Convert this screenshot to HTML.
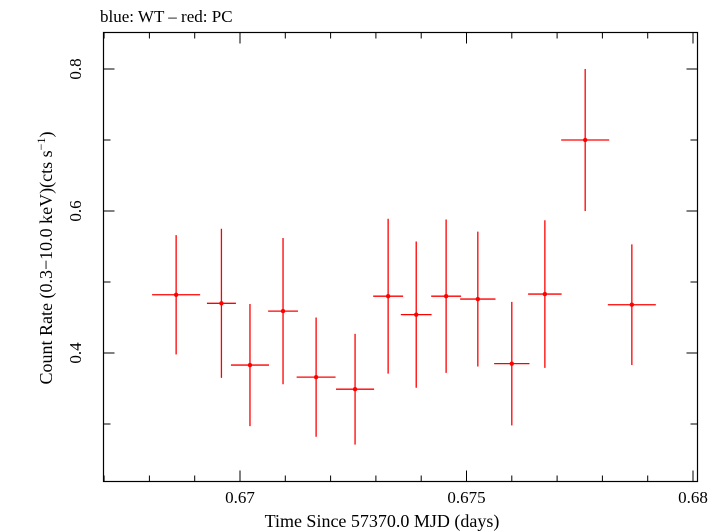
<!DOCTYPE html>
<html><head><meta charset="utf-8"><style>body{margin:0;background:#fff}svg{display:block}</style></head>
<body>
<svg id="chart" width="727" height="532" xmlns="http://www.w3.org/2000/svg" font-family="Liberation Serif, serif">
<rect x="0" y="0" width="727" height="532" fill="#fff"/>
<text x="100" y="22" font-size="17" fill="#000">blue: WT – red: PC</text>
<rect x="103.5" y="32.5" width="594" height="449" fill="none" stroke="#000" stroke-width="1.2"/>
<g id="axes"></g>
<g id="marks"></g>
<text x="382" y="527" font-size="18" text-anchor="middle">Time Since 57370.0 MJD (days)</text>
<text transform="translate(52,258) rotate(-90)" font-size="18" text-anchor="middle">Count Rate (0.3−10.0 keV)(cts s<tspan dy="-7" font-size="12">−1</tspan><tspan dy="7">)</tspan></text>
</svg>
<script>
const xVals=[0.66859,0.66959,0.67022,0.67095,0.67168,0.67254,0.67327,0.67389,0.67455,0.67525,0.67600,0.67673,0.67762,0.67865];
const xErr=[0.00053,0.00032,0.00042,0.00033,0.00043,0.00042,0.00033,0.00034,0.00033,0.00039,0.00039,0.00037,0.00053,0.00053];
const yVals=[0.482,0.470,0.383,0.459,0.366,0.349,0.480,0.454,0.480,0.476,0.385,0.483,0.700,0.468];
const yErr=[0.084,0.105,0.086,0.103,0.084,0.078,0.109,0.103,0.108,0.095,0.087,0.104,0.100,0.085];
const xTickLabels=["0.67","0.675","0.68"];
const yTickLabels=["0.4","0.6","0.8"];
const NS="http://www.w3.org/2000/svg";
const X=v=>240+(v-0.67)*45300;
const Y=v=>353-(v-0.4)*710;
function mk(tag,attrs,parent){const e=document.createElementNS(NS,tag);for(const k in attrs)e.setAttribute(k,attrs[k]);parent.appendChild(e);return e;}
const axes=document.getElementById('axes'),marks=document.getElementById('marks');
for(let i=0;i<=17;i++){const v=0.667+i*0.001;const px=X(v);if(px<104||px>697)continue;
 const major=Math.abs((v*1000)%5)<0.01||Math.abs((v*1000)%5-5)<0.01;const L=major?11:6;
 const t=mk('line',{x1:px,x2:px,y1:481.5,y2:481.5-L,stroke:'#000','stroke-width':1},axes);
 
 const t2=mk('line',{x1:px,x2:px,y1:32.5,y2:32.5+L,stroke:'#000','stroke-width':1},axes);
 }
xTickLabels.forEach(s=>{const e=mk('text',{x:X(parseFloat(s)),y:503,'font-size':17,'text-anchor':'middle'},axes);e.textContent=s;
 });
for(let i=0;i<=7;i++){const v=0.2+i*0.1;const py=Y(v);if(py<33||py>481)continue;const major=(i%2===0);const L=major?11:7;
 const t=mk('line',{x1:103.5,x2:103.5+L,y1:py,y2:py,stroke:'#000','stroke-width':1},axes);
 
 const t2=mk('line',{x1:697.5,x2:697.5-L,y1:py,y2:py,stroke:'#000','stroke-width':1},axes);
 }
yTickLabels.forEach(s=>{const e=mk('text',{transform:`translate(81,${Y(parseFloat(s))}) rotate(-90)`,'font-size':17,'text-anchor':'middle'},axes);e.textContent=s;
 });
xVals.forEach((v,i)=>{const g=mk('g',{},marks);
 
 mk('line',{x1:X(v-xErr[i]),x2:X(v+xErr[i]),y1:Y(yVals[i]),y2:Y(yVals[i]),stroke:'#f00','stroke-width':1.3},g);
 mk('line',{x1:X(v),x2:X(v),y1:Y(yVals[i]-yErr[i]),y2:Y(yVals[i]+yErr[i]),stroke:'#f00','stroke-width':1.3},g);
 mk('circle',{cx:X(v),cy:Y(yVals[i]),r:2.2,fill:'#f00'},g);});
</script>
</body></html>
